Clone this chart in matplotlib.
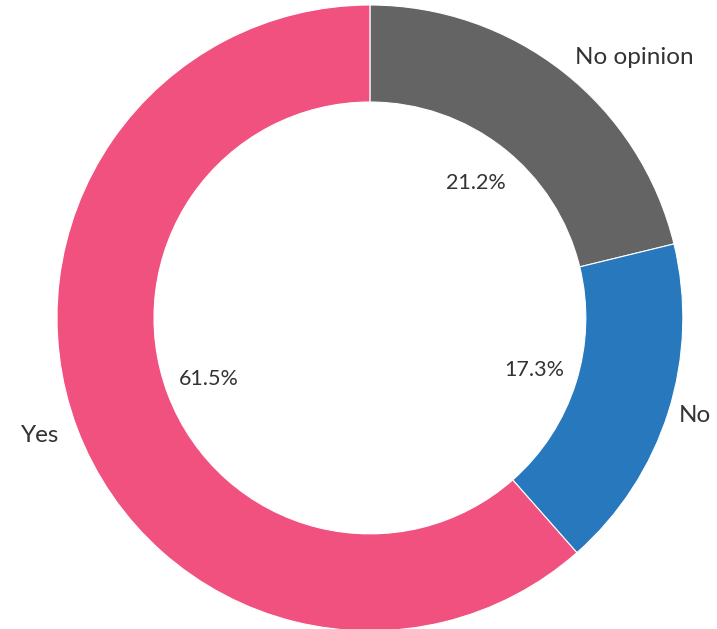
import matplotlib.pyplot as plt

labels = ['No opinion', 'No', 'Yes']
shares = [21.2, 17.3, 61.5]
colors = ['#646464', '#2878be', '#f0517f']

plt.rcParams['font.family'] = ['Lato', 'DejaVu Sans']

fig = plt.figure(figsize=(7.17, 6.29), dpi=100)
ax = fig.add_axes([0, 0, 1, 1])

wedges, texts, autotexts = ax.pie(
    shares,
    labels=labels,
    colors=colors,
    startangle=90,
    counterclock=False,
    autopct='%.1f%%',
    pctdistance=0.55,
    labeldistance=1.06,
    wedgeprops=dict(width=0.31, edgecolor='white', linewidth=0.8),
    textprops=dict(color='#333333', fontsize=17.5),
)
for t in autotexts:
    t.set_fontsize(15.5)
    t.set_color('#333333')

# pull the "No" label in a little so it stays inside the figure
x, y = texts[1].get_position()
texts[1].set_position((x * 1.035 / 1.06, y * 1.035 / 1.06))

ax.set_xlim(-1.182, 1.109)
ax.set_ylim(-0.994, 1.016)
ax.set_aspect('equal', adjustable='box')
ax.axis('off')

fig.savefig('out.png', dpi=100)
